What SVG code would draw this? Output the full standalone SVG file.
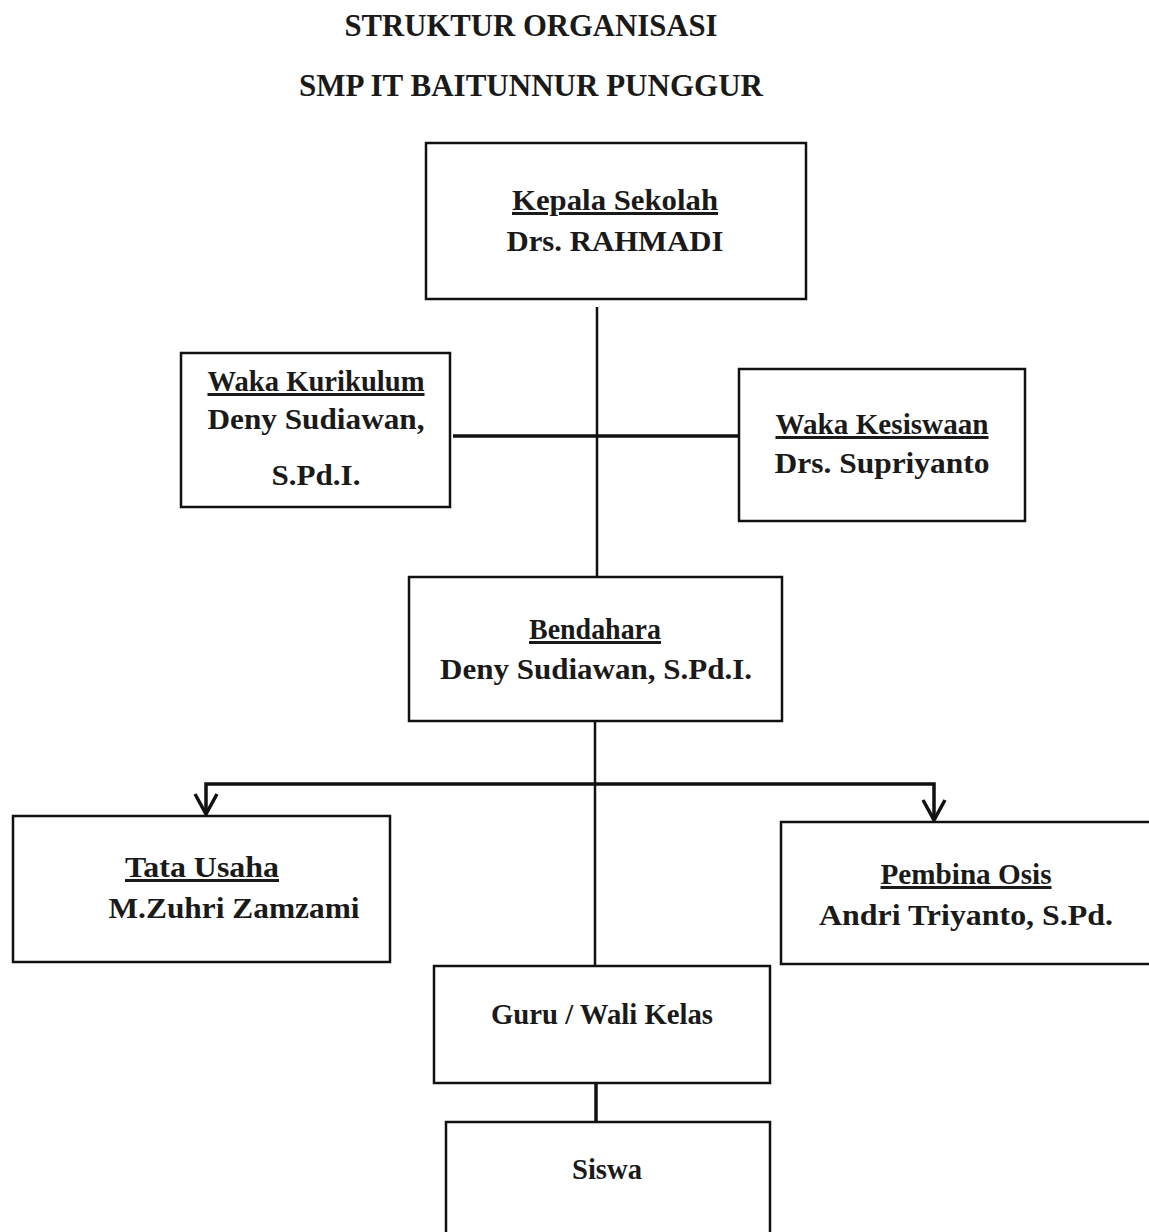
<svg xmlns="http://www.w3.org/2000/svg" width="1149" height="1232" viewBox="0 0 1149 1232">
<defs>
<style>
.box{fill:#fff;stroke:#111;stroke-width:2.5}
.t{font-family:"Liberation Serif","Times New Roman",serif;font-weight:bold;fill:#1a1a1a;text-anchor:middle;font-size:30px}
.u{text-decoration:underline}
.ln{stroke:#111;stroke-width:2.5;fill:none}
.lnb{stroke:#111;stroke-width:3.5;fill:none}
</style>
<marker id="arr" markerWidth="26" markerHeight="26" refX="22" refY="13" orient="auto" markerUnits="userSpaceOnUse" viewBox="0 0 26 26">
<path d="M2,2 L22,13 L2,24" fill="none" stroke="#111" stroke-width="3.5"/>
</marker>
</defs>
<rect width="1149" height="1232" fill="#fff"/>
<text class="t" x="531" y="36" textLength="373" lengthAdjust="spacingAndGlyphs" style="font-size:31px">STRUKTUR ORGANISASI</text>
<text class="t" x="531" y="96" textLength="464" lengthAdjust="spacingAndGlyphs" style="font-size:31px">SMP IT BAITUNNUR PUNGGUR</text>
<g id="connectors">
<line class="ln" x1="597" y1="307" x2="597" y2="577"/>
<line class="lnb" x1="453" y1="436" x2="739" y2="436"/>
<line class="ln" x1="595" y1="721" x2="595" y2="966"/>
<path class="lnb" d="M595,784 L206,784 L206,814" marker-end="url(#arr)"/>
<path class="lnb" d="M595,784 L934,784 L934,820" marker-end="url(#arr)"/>
<line class="lnb" x1="596" y1="1083" x2="596" y2="1122"/>
</g>
<g id="kepala">
<rect class="box" x="426" y="143" width="380" height="156"/>
<text class="t u" x="615" y="210" textLength="206" lengthAdjust="spacingAndGlyphs">Kepala Sekolah</text>
<text class="t" x="615" y="251" textLength="217" lengthAdjust="spacingAndGlyphs">Drs. RAHMADI</text>
</g>
<g id="waka-kurikulum">
<rect class="box" x="181" y="353" width="269" height="154"/>
<text class="t u" x="316" y="391" textLength="217" lengthAdjust="spacingAndGlyphs">Waka Kurikulum</text>
<text class="t" x="316" y="429" textLength="217" lengthAdjust="spacingAndGlyphs">Deny Sudiawan,</text>
<text class="t" x="316" y="485" textLength="89" lengthAdjust="spacingAndGlyphs">S.Pd.I.</text>
</g>
<g id="waka-kesiswaan">
<rect class="box" x="739" y="369" width="286" height="152"/>
<text class="t u" x="882" y="434" textLength="213" lengthAdjust="spacingAndGlyphs">Waka Kesiswaan</text>
<text class="t" x="882" y="473" textLength="215" lengthAdjust="spacingAndGlyphs">Drs. Supriyanto</text>
</g>
<g id="bendahara">
<rect class="box" x="409" y="577" width="373" height="144"/>
<text class="t u" x="595" y="639" textLength="132" lengthAdjust="spacingAndGlyphs">Bendahara</text>
<text class="t" x="596" y="679" textLength="312" lengthAdjust="spacingAndGlyphs">Deny Sudiawan, S.Pd.I.</text>
</g>
<g id="tata-usaha">
<rect class="box" x="13" y="816" width="377" height="146"/>
<text class="t u" x="202" y="877" textLength="154" lengthAdjust="spacingAndGlyphs">Tata Usaha</text>
<text class="t" x="234" y="918" textLength="251" lengthAdjust="spacingAndGlyphs">M.Zuhri Zamzami</text>
</g>
<g id="pembina-osis">
<rect class="box" x="781" y="822" width="380" height="142"/>
<text class="t u" x="966" y="884" textLength="171" lengthAdjust="spacingAndGlyphs">Pembina Osis</text>
<text class="t" x="966" y="925" textLength="294" lengthAdjust="spacingAndGlyphs">Andri Triyanto, S.Pd.</text>
</g>
<g id="guru">
<rect class="box" x="434" y="966" width="336" height="117"/>
<text class="t" x="602" y="1024" textLength="222" lengthAdjust="spacingAndGlyphs" style="font-size:29px">Guru / Wali Kelas</text>
</g>
<g id="siswa">
<rect class="box" x="446" y="1122" width="324" height="130"/>
<text class="t" x="607" y="1179" textLength="70" lengthAdjust="spacingAndGlyphs" style="font-size:29px">Siswa</text>
</g>
</svg>
